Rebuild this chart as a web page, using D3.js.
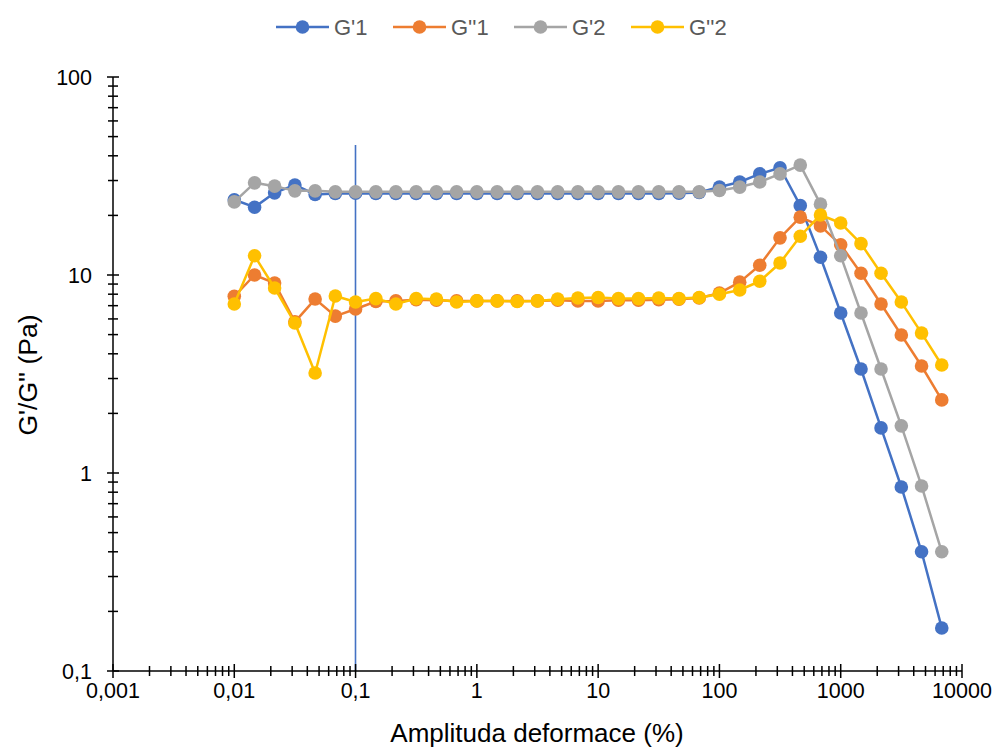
<!DOCTYPE html>
<html><head><meta charset="utf-8">
<script src="https://cdn.jsdelivr.net/npm/d3@7"></script>
<style>body{margin:0;background:#fff}svg{display:block}text{font-family:"Liberation Sans",Arial,sans-serif}</style>
</head><body><svg id="c" width="998" height="749"></svg>
<script>
const strain=[0.01,0.0147,0.0215,0.0316,0.0464,0.0681,0.1,0.147,0.215,0.316,0.464,0.681,1,1.47,2.15,3.16,4.64,6.81,10,14.7,21.5,31.6,46.4,68.1,100,147,215,316,464,681,1000,1470,2150,3160,4640,6810];
const G1p=[24,22,26,28.5,25.5,25.8,25.9,25.8,25.8,25.8,25.8,25.8,25.8,25.8,25.8,25.8,25.8,25.8,25.8,25.8,25.8,25.8,25.9,26.1,27.8,29.5,32.4,34.8,22.4,12.3,6.43,3.35,1.69,0.85,0.40,0.165];
const G1pp=[7.8,10.0,9.1,5.8,7.56,6.2,6.73,7.35,7.4,7.5,7.45,7.4,7.4,7.4,7.4,7.4,7.45,7.4,7.4,7.45,7.45,7.5,7.55,7.65,8.1,9.2,11.2,15.4,19.6,17.7,14.2,10.2,7.14,4.98,3.47,2.34];
const G2p=[23.4,29.2,28.1,26.6,26.6,26.3,26.3,26.3,26.3,26.3,26.3,26.3,26.3,26.3,26.3,26.3,26.3,26.3,26.3,26.3,26.3,26.3,26.3,26.3,26.7,27.8,29.5,32.4,35.9,22.8,12.5,6.43,3.35,1.73,0.86,0.40];
const G2pp=[7.14,12.5,8.6,5.72,3.2,7.83,7.3,7.6,7.14,7.6,7.55,7.3,7.4,7.4,7.35,7.4,7.55,7.65,7.7,7.6,7.6,7.65,7.6,7.7,8.0,8.4,9.3,11.5,15.7,20.1,18.3,14.4,10.2,7.3,5.09,3.51];
const seriesNames=["G'1","G''1","G'2","G''2"];
const seriesColors=["#4472C4","#ED7D31","#A5A5A5","#FFC000"];
const xTicks=[0.001,0.01,0.1,1,10,100,1000,10000];
const xTickLabels=["0,001","0,01","0,1","1","10","100","1000","10000"];
const yTicks=[0.1,1,10,100];
const yTickLabels=["0,1","1","10","100"];
const markerLine=0.1;

const series=[G1p,G1pp,G2p,G2pp];
const svg=d3.select("#c");
const x=d3.scaleLog().domain([0.001,10000]).range([113,962]);
const y=d3.scaleLog().domain([0.1,100]).range([671,77]);

function minors(lo,hi){const out=[];for(let d=lo;d<hi;d*=10){for(let k=2;k<=9;k++)out.push(d*k);}return out;}

// marker line
const mx=Math.floor(x(markerLine))+0.5;
svg.append("line").attr("x1",mx).attr("x2",mx).attr("y1",145).attr("y2",y(0.1))
  .attr("stroke","#4472C4").attr("stroke-width",1.6);

// series
const line=d3.line().x((d,i)=>x(strain[i])).y(d=>y(d));
series.forEach((s,k)=>{
  const g=svg.append("g");
  g.append("path").attr("d",line(s)).attr("fill","none").attr("stroke",seriesColors[k]).attr("stroke-width",2.5).attr("stroke-linejoin","round");
  g.selectAll("circle").data(s).enter().append("circle").attr("cx",(d,i)=>x(strain[i])).attr("cy",d=>y(d)).attr("r",6.8).attr("fill",seriesColors[k]);
});

// x axis
const xa=svg.append("g").attr("transform",`translate(0,${y(0.1)})`);
xa.append("line").attr("x1",x(0.001)).attr("x2",x(10000)).attr("stroke","#000").attr("stroke-width",1.5);
xa.selectAll(".mn").data(minors(0.001,10000)).enter().append("line").attr("x1",d=>x(d)).attr("x2",d=>x(d)).attr("y1",-5).attr("y2",5).attr("stroke","#000").attr("stroke-width",1.5);
xa.selectAll(".mj").data(xTicks).enter().append("line").attr("x1",d=>x(d)).attr("x2",d=>x(d)).attr("y1",-7).attr("y2",7).attr("stroke","#000").attr("stroke-width",1.5);
xa.selectAll(".lb").data(xTicks).enter().append("text").attr("x",d=>x(d)).attr("y",27).attr("text-anchor","middle").attr("font-size",21.5).attr("fill","#000").text((d,i)=>xTickLabels[i]);

// y axis
const ya=svg.append("g").attr("transform",`translate(${x(0.001)},0)`);
ya.append("line").attr("y1",y(0.1)).attr("y2",y(100)).attr("stroke","#000").attr("stroke-width",1.5);
ya.selectAll(".mn").data(minors(0.1,100)).enter().append("line").attr("y1",d=>y(d)).attr("y2",d=>y(d)).attr("x1",-5).attr("x2",5).attr("stroke","#000").attr("stroke-width",1.5);
ya.selectAll(".mj").data(yTicks).enter().append("line").attr("y1",d=>y(d)).attr("y2",d=>y(d)).attr("x1",-6).attr("x2",6).attr("stroke","#000").attr("stroke-width",1.5);
ya.selectAll(".lb").data(yTicks).enter().append("text").attr("x",-21).attr("y",d=>y(d)+8).attr("text-anchor","end").attr("font-size",21.5).attr("fill","#000").text((d,i)=>yTickLabels[i]);

// titles
svg.append("text").attr("x",537).attr("y",742).attr("text-anchor","middle").attr("font-size",26).attr("fill","#000").text("Amplituda deformace (%)");
svg.append("text").attr("transform","translate(37,375) rotate(-90)").attr("text-anchor","middle").attr("font-size",26.5).attr("fill","#000").text("G'/G'' (Pa)");

// legend
const lgX=[276,393,514,631];
seriesNames.forEach((n,k)=>{
  const g=svg.append("g").attr("transform",`translate(${lgX[k]},27)`);
  g.append("line").attr("x1",0).attr("x2",53).attr("stroke",seriesColors[k]).attr("stroke-width",2.5);
  g.append("circle").attr("cx",26.5).attr("cy",0).attr("r",6.8).attr("fill",seriesColors[k]);
  g.append("text").attr("x",58).attr("y",8).attr("font-size",22).attr("fill","#595959").text(n);
});
</script></body></html>
